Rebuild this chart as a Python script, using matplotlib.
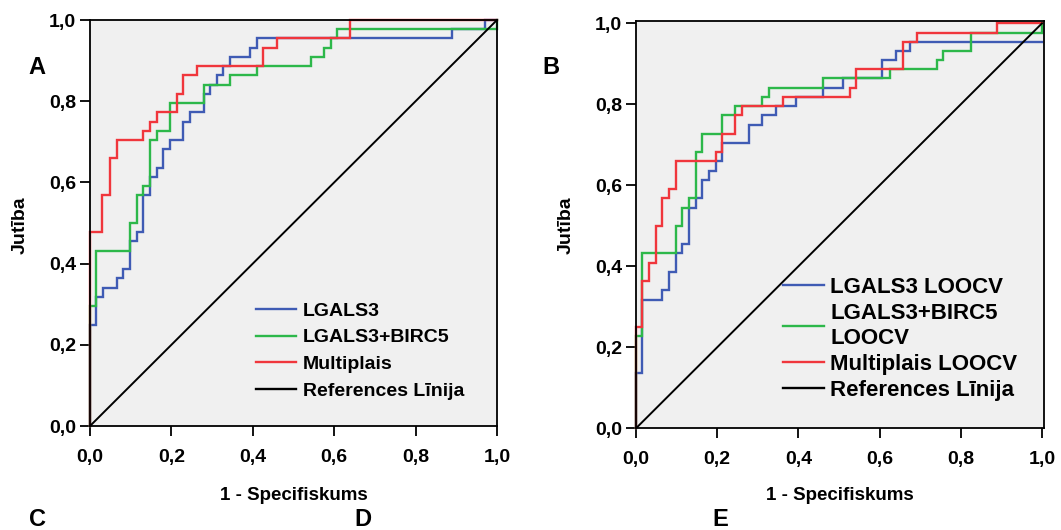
import matplotlib
matplotlib.use("Agg")
import matplotlib.pyplot as plt
from matplotlib import font_manager

# ---- ROC curve vertices (false positive rate, true positive rate) ----
# Panel A
a_fpr_lgals3 = [0, 0, 0.015, 0.031, 0.066, 0.082, 0.098, 0.115, 0.131, 0.147, 0.164, 0.180,
                0.197, 0.229, 0.246, 0.279, 0.295, 0.311, 0.328, 0.344, 0.393, 0.410, 0.889,
                0.970, 1.0]
a_tpr_lgals3 = [0, 0.250, 0.318, 0.341, 0.364, 0.386, 0.455, 0.477, 0.568, 0.614, 0.636, 0.682,
                0.705, 0.750, 0.773, 0.818, 0.841, 0.864, 0.886, 0.909, 0.932, 0.955, 0.977,
                1.0, 1.0]
a_fpr_birc5 = [0, 0, 0.015, 0.098, 0.115, 0.131, 0.147, 0.164, 0.197, 0.279, 0.344, 0.410,
               0.542, 0.575, 0.591, 0.608, 1.0]
a_tpr_birc5 = [0, 0.295, 0.432, 0.500, 0.568, 0.591, 0.705, 0.727, 0.795, 0.841, 0.864, 0.886,
               0.909, 0.932, 0.955, 0.977, 1.0]
a_fpr_multi = [0, 0, 0.029, 0.049, 0.066, 0.131, 0.147, 0.164, 0.213, 0.229, 0.262, 0.426,
               0.459, 0.640, 1.0]
a_tpr_multi = [0, 0.477, 0.568, 0.659, 0.705, 0.727, 0.750, 0.773, 0.818, 0.864, 0.886, 0.932,
               0.955, 1.0, 1.0]

# Panel B (leave-one-out cross-validation)
b_fpr_lgals3 = [0, 0, 0.0155, 0.065, 0.081, 0.098, 0.114, 0.130, 0.147, 0.163, 0.180, 0.196,
                0.213, 0.278, 0.311, 0.345, 0.394, 0.460, 0.509, 0.607, 0.640, 0.675, 1.0]
b_tpr_lgals3 = [0, 0.136, 0.318, 0.341, 0.386, 0.432, 0.455, 0.545, 0.568, 0.614, 0.636, 0.659,
                0.705, 0.750, 0.773, 0.795, 0.818, 0.841, 0.864, 0.909, 0.932, 0.955, 0.955]
b_fpr_birc5 = [0, 0, 0.0155, 0.098, 0.114, 0.130, 0.147, 0.163, 0.213, 0.245, 0.311, 0.328,
               0.461, 0.626, 0.741, 0.757, 0.824, 1.0]
b_tpr_birc5 = [0, 0.227, 0.432, 0.500, 0.545, 0.568, 0.682, 0.727, 0.773, 0.795, 0.818, 0.841,
               0.864, 0.886, 0.909, 0.932, 0.977, 1.0]
b_fpr_multi = [0, 0, 0.0155, 0.032, 0.049, 0.065, 0.081, 0.098, 0.197, 0.213, 0.245, 0.262,
               0.361, 0.527, 0.543, 0.658, 0.691, 0.888, 1.0]
b_tpr_multi = [0, 0.250, 0.364, 0.409, 0.500, 0.568, 0.591, 0.659, 0.682, 0.727, 0.773, 0.795,
               0.818, 0.841, 0.886, 0.955, 0.977, 1.0, 1.0]

ref_line = [0, 1]
tick_values = [0.0, 0.2, 0.4, 0.6, 0.8, 1.0]
tick_labels = ["0,0", "0,2", "0,4", "0,6", "0,8", "1,0"]

a_labels = ["LGALS3", "LGALS3+BIRC5", "Multiplais", "References Līnija"]
b_labels = ["LGALS3 LOOCV", "LGALS3+BIRC5\nLOOCV", "Multiplais LOOCV", "References Līnija"]
x_title = "1 - Specifiskums"
y_title = "Jutība"
panel_letters = ["A", "B", "C", "D", "E"]

# ---- styling ----
C_BLUE = "#3F5BB4"
C_GREEN = "#2DB84A"
C_RED = "#F0363C"
BG = "#F0F0F0"

names = {f.name for f in font_manager.fontManager.ttflist}
NARROW = "Liberation Sans Narrow" if "Liberation Sans Narrow" in names else "Liberation Sans"
SANS = "Liberation Sans"
plt.rcParams["font.family"] = [SANS, "DejaVu Sans"]

W, H = 1061, 530
fig = plt.figure(figsize=(W / 100, H / 100), dpi=100)


def px_box(l, t, r, b):
    return [l / W, 1 - b / H, (r - l) / W, (b - t) / H]


def fx(x):
    return x / W


def fy(y):
    return 1 - y / H


def roc_panel(box, xmax, ymax, curves, labels, leg_anchor, leg_size, hl, htp, lsp):
    ax = fig.add_axes(px_box(*box))
    ax.set_facecolor(BG)
    handles = []
    for fpr, tpr, col in curves:
        h, = ax.plot(fpr, tpr, drawstyle="steps-post", color=col, lw=1.7,
                     solid_joinstyle="miter", clip_on=False, zorder=2)
        handles.append(h)
    h, = ax.plot(ref_line, ref_line, color="black", lw=1.4, zorder=2.2)
    handles.append(h)
    ax.set_xlim(0, xmax)
    ax.set_ylim(0, ymax)
    ax.set_xticks(tick_values)
    ax.set_yticks(tick_values)
    ax.set_xticklabels(tick_labels, fontfamily=NARROW, fontweight="bold", fontsize=14)
    ax.set_yticklabels(tick_labels, fontfamily=NARROW, fontweight="bold", fontsize=14)
    ax.tick_params(axis="both", direction="out", length=7.5, width=1.3, color="black")
    ax.tick_params(axis="x", pad=9)
    ax.tick_params(axis="y", pad=2.5)
    for s in ax.spines.values():
        s.set_linewidth(1.3)
        s.set_color("black")
    leg = ax.legend(handles, labels, loc="upper left",
                    bbox_to_anchor=(fx(leg_anchor[0]), fy(leg_anchor[1])),
                    bbox_transform=fig.transFigure, frameon=False, borderpad=0,
                    borderaxespad=0, handlelength=hl, handletextpad=htp,
                    labelspacing=lsp, prop={"family": SANS, "weight": "bold",
                                            "size": leg_size})
    for ln in leg.get_lines():
        ln.set_linewidth(1.7)
    return ax


roc_panel((90, 20, 497, 426), 1.0, 1.0,
          [(a_fpr_lgals3, a_tpr_lgals3, C_BLUE),
           (a_fpr_birc5, a_tpr_birc5, C_GREEN),
           (a_fpr_multi, a_tpr_multi, C_RED)],
          a_labels, (256, 302), 14, 2.05, 0.35, 0.47)

roc_panel((636, 20.7, 1044, 428.3), 1.005, 1.0065,
          [(b_fpr_lgals3, b_tpr_lgals3, C_BLUE),
           (b_fpr_birc5, b_tpr_birc5, C_GREEN),
           (b_fpr_multi, b_tpr_multi, C_RED)],
          b_labels, (783, 277), 16, 1.85, 0.28, 0.24)

# axis titles
for cx in (293.5, 840):
    fig.text(fx(cx), fy(495), x_title, ha="center", va="center",
             fontfamily=NARROW, fontweight="bold", fontsize=13.5)
for cx in (20, 566):
    fig.text(fx(cx), fy(225), y_title, ha="center", va="center", rotation=90,
             fontfamily=SANS, fontweight="bold", fontsize=14)

# panel letters
letter_pos = [(37, 68), (551, 68), (38, 519), (363, 519), (720, 519)]
for letter, (lx, ly) in zip(panel_letters, letter_pos):
    fig.text(fx(lx), fy(ly), letter, ha="center", va="center",
             fontfamily=SANS, fontweight="bold", fontsize=17)

fig.savefig("out.png", dpi=100, facecolor="white")
